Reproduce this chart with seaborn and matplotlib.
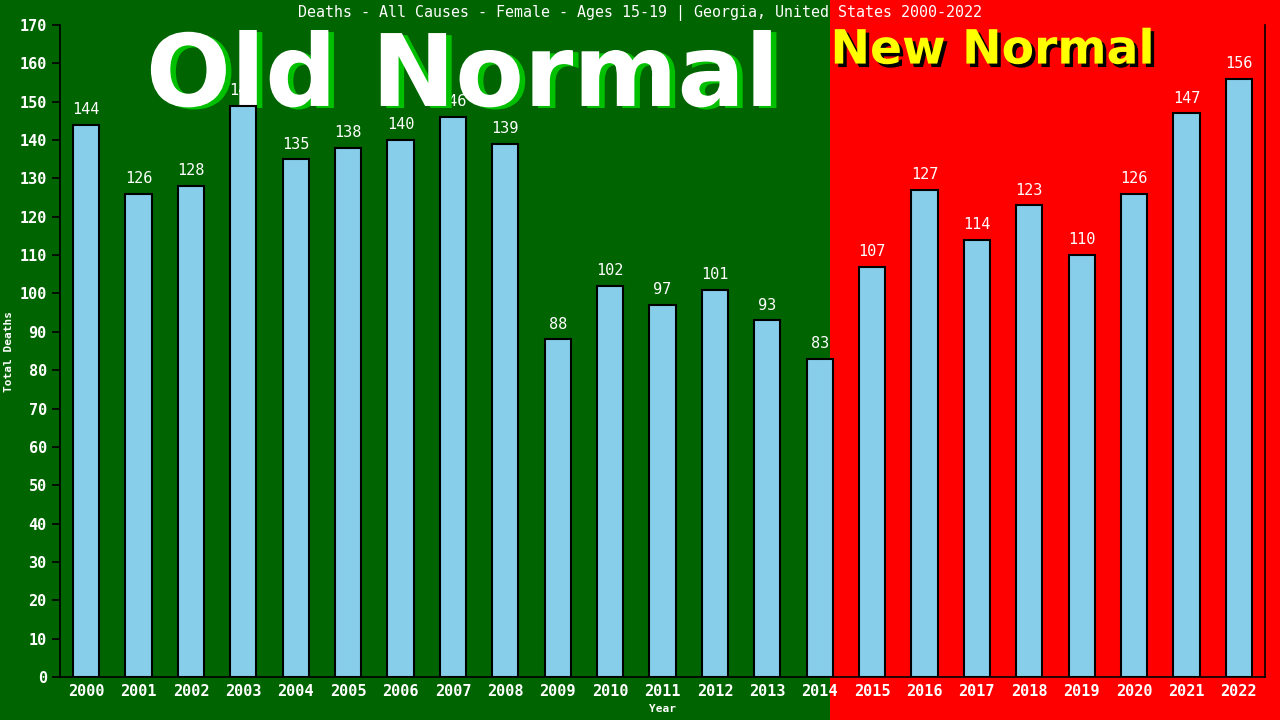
import pandas as pd
import numpy as np
import seaborn as sns
import matplotlib.pyplot as plt
import matplotlib.patheffects as pe
from matplotlib.patches import Rectangle

# chart data
years = [str(y) for y in range(2000, 2023)]
deaths = [144, 126, 128, 149, 135, 138, 140, 146, 139, 88, 102, 97, 101, 93, 83,
          107, 127, 114, 123, 110, 126, 147, 156]
y_ticks = list(range(0, 171, 10))

df = pd.DataFrame({"Year": years, "Deaths": deaths})

sns.set_style("white")
mono = "DejaVu Sans Mono"

fig = plt.figure(figsize=(12.8, 7.2), dpi=100, facecolor="#006400")
ax = fig.add_axes([60 / 1280, 43 / 720, 1205 / 1280, 652 / 720])
ax.set_facecolor("none")

# red "new normal" background on the right
fig.add_artist(Rectangle((830 / 1280, 0), 1 - 830 / 1280, 1, transform=fig.transFigure,
                         facecolor="#ff0000", edgecolor="none", zorder=-1))

sns.barplot(data=df, x="Year", y="Deaths", color="#87CEEB", edgecolor="black",
            linewidth=1.5, width=0.5, saturation=1, ax=ax, zorder=5)

for i, v in enumerate(deaths):
    ax.text(i, v + 2, str(v), ha="center", va="bottom", color="white",
            fontsize=11, family=mono, zorder=2)

# big overlay texts
ax.text(0.334, 0.918, "Old Normal", transform=ax.transAxes, ha="center", va="center",
        fontsize=72, fontweight="bold", color="white", zorder=3,
        path_effects=[pe.withSimplePatchShadow(offset=(4, -1.5), shadow_rgbFace="#00c000", alpha=1)])
ax.text(0.774, 0.96, "New Normal", transform=ax.transAxes, ha="center", va="center",
        fontsize=34, fontweight="bold", color="#ffff00", zorder=3,
        path_effects=[pe.withSimplePatchShadow(offset=(2.5, -2.5), shadow_rgbFace="black", alpha=1)])

ax.set_ylim(0, 170)
ax.set_xlim(-0.5, len(years) - 0.5)
ax.set_yticks(y_ticks)
ax.tick_params(axis="y", colors="black", length=6, width=1.2, direction="out", left=True,
               labelcolor="white", labelsize=11)
ax.tick_params(axis="x", length=0, labelcolor="white", labelsize=11, pad=5)
for lab in ax.get_xticklabels() + ax.get_yticklabels():
    lab.set_family(mono)
    lab.set_fontweight("bold")

for s in ["left", "bottom", "right"]:
    ax.spines[s].set_color("black")
    ax.spines[s].set_linewidth(1.2)
ax.spines["top"].set_visible(False)

ax.set_xlabel("Year", color="white", fontsize=8, family=mono, fontweight="bold", labelpad=4)
ax.set_ylabel("Total Deaths", color="white", fontsize=8, family=mono, fontweight="bold", labelpad=4)

fig.text(0.5, 0.982, "Deaths - All Causes - Female - Ages 15-19 | Georgia, United States 2000-2022",
         ha="center", va="center", color="white", fontsize=10.8, family=mono)

fig.savefig("out.png", dpi=100, facecolor=fig.get_facecolor())
